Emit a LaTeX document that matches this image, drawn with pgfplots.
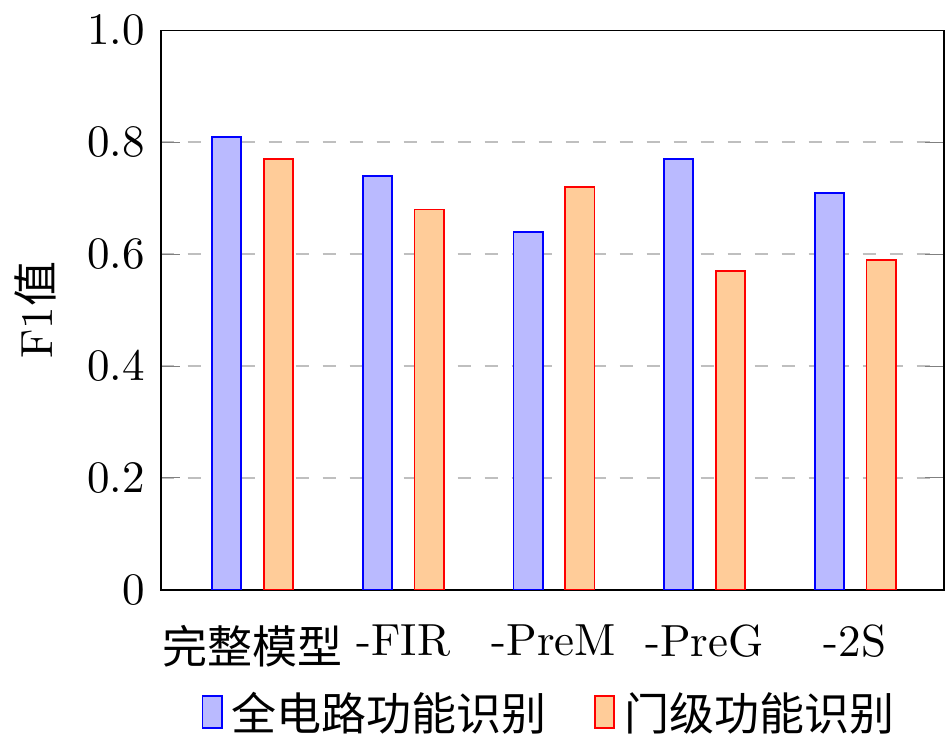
\documentclass[border=0pt]{standalone}
\usepackage{pgfplots}
\pgfplotsset{compat=1.18}
\usepackage{fontspec}
\newfontfamily\cjk{Noto Sans CJK SC}
\begin{document}
\begin{tikzpicture}
\begin{axis}[
  width=7.7cm, height=5.95cm,
  ybar=5pt, bar width=6.5pt,
  xmin=-0.61, xmax=4.59, ymin=0, ymax=1,
  xtick=data, xticklabels={{\cjk 完整模型},-FIR,-PreM,-PreG,-2S},
  xtick style={draw=none},
  ytick={0,0.2,0.4,0.6,0.8,1.0},
  yticklabels={0,0.2,0.4,0.6,0.8,1.0},
  ymajorgrids, grid style={dashed,gray!50},
  ylabel={F1{\cjk 值}},
  legend style={draw=none, at={(0.5,-0.15)}, anchor=north, legend columns=-1, /tikz/every even column/.append style={column sep=0.3cm}},
  legend image code/.code={\draw[#1] (0cm,-0.1cm) rectangle (0.15cm,0.15cm);},
]
\addplot[draw=blue, fill=blue!27] coordinates {(0,0.81) (1,0.74) (2,0.64) (3,0.77) (4,0.71)};
\addplot[draw=red, fill=orange!40] coordinates {(0,0.77) (1,0.68) (2,0.72) (3,0.57) (4,0.59)};
\legend{{\cjk 全电路功能识别},{\cjk 门级功能识别}}
\end{axis}
\end{tikzpicture}
\end{document}
